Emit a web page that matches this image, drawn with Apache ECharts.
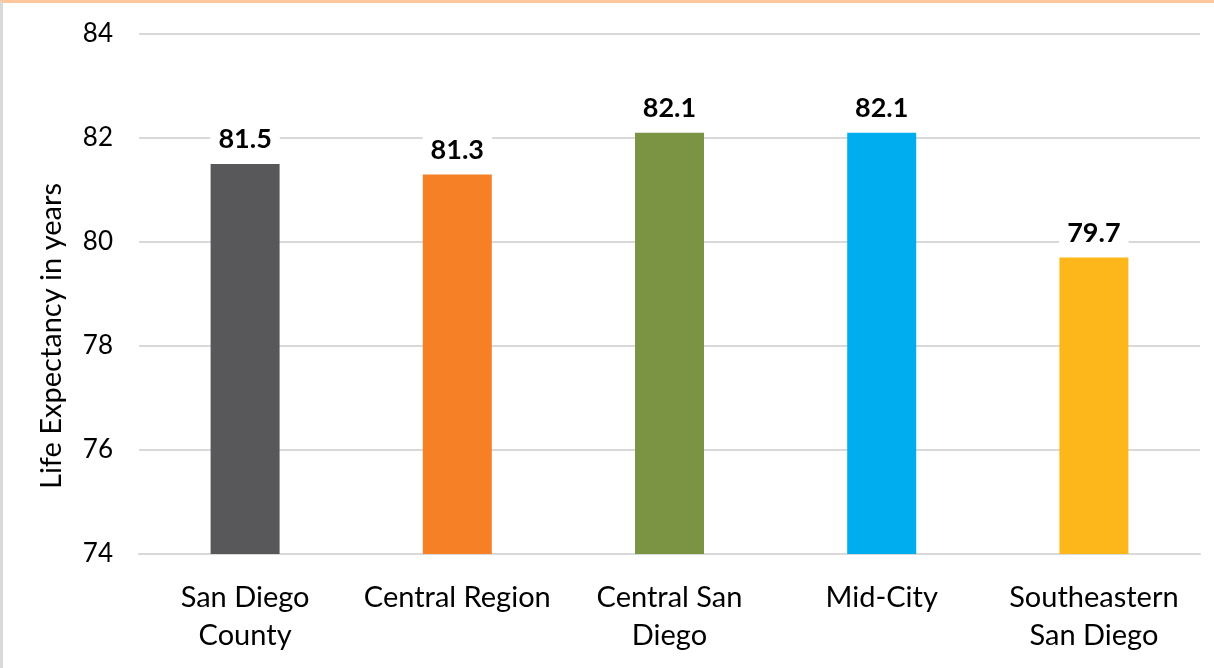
<!DOCTYPE html>
<html>
<head>
<meta charset="utf-8">
<script src="https://cdn.jsdelivr.net/npm/echarts@6/dist/echarts.min.js"></script>
<style>
  html, body { margin: 0; padding: 0; background: #fff; }
  #chart {
    width: 1211px; height: 665px;
    border-top: 3px solid #FDC69C;
    border-left: 3px solid #D9D9D9;
    box-sizing: content-box;
  }
</style>
</head>
<body>
<div id="chart"></div>
<script>
const regions = ['San Diego\nCounty', 'Central Region', 'Central San\nDiego', 'Mid-City', 'Southeastern\nSan Diego']
const lifeExpectancy = [81.5, 81.3, 82.1, 82.1, 79.7]
const barColors = ['#58585A', '#F58025', '#7A9444', '#00AEEF', '#FDB71A']

const chart = echarts.init(document.getElementById('chart'))

const font = 'Lato, "Open Sans", sans-serif'

// grid coordinates are relative to the chart div (offset by borders)
const option = {
  animation: false,
  textStyle: { fontFamily: font },
  grid: { left: 136, right: 14, top: 31, bottom: 114 },
  xAxis: {
    type: 'category',
    data: regions,
    axisTick: { show: false },
    axisLine: { lineStyle: { color: '#D9D9D9', width: 2 } },
    axisLabel: { interval: 0, color: '#000', fontSize: 29, lineHeight: 38, margin: 25, fontFamily: font },
  },
  yAxis: {
    type: 'value',
    min: 74,
    max: 84,
    interval: 2,
    axisLine: { show: false },
    axisTick: { show: false },
    splitLine: { lineStyle: { color: '#D9D9D9', width: 2 } },
    axisLabel: { color: '#000', fontSize: 26, margin: 26, fontFamily: font },
  },
  graphic: [
    {
      type: 'text',
      rotation: Math.PI / 2,
      position: [34, 486],
      style: {
        text: 'Life Expectancy in years',
        fontSize: 29,
        fontFamily: font,
        fill: '#000',
      },
    },
  ],
  series: [
    {
      type: 'bar',
      barWidth: 69,
      data: lifeExpectancy.map((v, i) => ({ value: v, itemStyle: { color: barColors[i] } })),
      label: {
        show: true,
        position: 'top',
        distance: 10,
        color: '#000',
        fontWeight: 'bold',
        fontSize: 27,
        fontFamily: font,
        backgroundColor: '#fff',
        padding: [1, 8],
      },
    },
  ],
}

chart.setOption(option)
</script>
</body>
</html>
